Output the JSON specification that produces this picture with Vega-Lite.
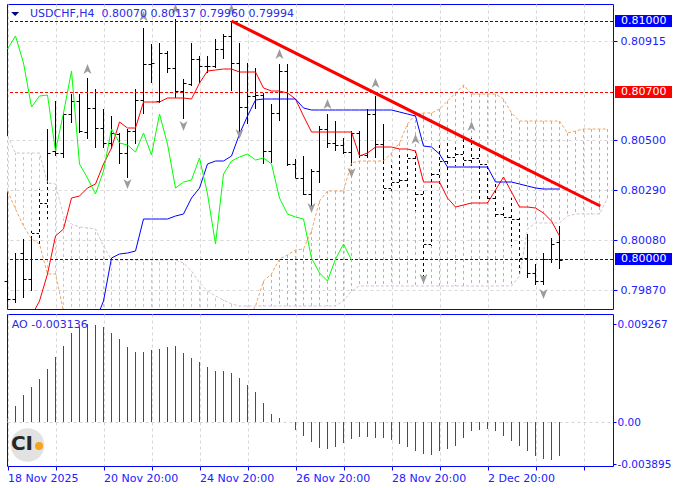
{
"$schema": "https://vega.github.io/schema/vega-lite/v6.json",
"background": "white",
"padding": {"left": 3, "top": 3, "right": 0, "bottom": 0},
"spacing": 3,
"config": {
  "view": {"stroke": "#0000ff", "strokeWidth": 1},
  "axis": {"labelFont": "DejaVu Sans", "labelFontSize": 11, "labelColor": "#2020ff", "tickColor": "#0000ff", "domain": false, "title": null, "gridColor": "#d6d6d6", "gridDash": [3, 3], "tickSize": 4},
  "text": {"font": "DejaVu Sans"}
},
"resolve": {"scale": {"x": "independent", "y": "independent", "color": "independent", "shape": "independent"}},
"datasets": {
  "bars": [
    {"i":0,"o":0.79908,"h":0.79983,"l":0.79824,"c":0.79832},
    {"i":1,"o":0.79832,"h":0.80025,"l":0.79815,"c":0.80000},
    {"i":2,"o":0.80025,"h":0.80084,"l":0.79836,"c":0.79916},
    {"i":3,"o":0.79916,"h":0.80118,"l":0.79866,"c":0.80109},
    {"i":4,"o":0.80109,"h":0.80294,"l":0.80063,"c":0.80235},
    {"i":5,"o":0.80235,"h":0.80546,"l":0.80168,"c":0.80445},
    {"i":6,"o":0.80454,"h":0.80664,"l":0.80433,"c":0.80445},
    {"i":7,"o":0.80445,"h":0.80613,"l":0.80424,"c":0.80609},
    {"i":8,"o":0.80609,"h":0.80693,"l":0.80571,"c":0.80664},
    {"i":9,"o":0.80664,"h":0.80693,"l":0.80529,"c":0.80538},
    {"i":10,"o":0.80534,"h":0.80761,"l":0.80504,"c":0.80634},
    {"i":11,"o":0.80634,"h":0.80714,"l":0.80466,"c":0.80550},
    {"i":12,"o":0.80550,"h":0.80630,"l":0.80466,"c":0.80487},
    {"i":13,"o":0.80487,"h":0.80601,"l":0.80462,"c":0.80529},
    {"i":14,"o":0.80525,"h":0.80529,"l":0.80399,"c":0.80445},
    {"i":15,"o":0.80445,"h":0.80546,"l":0.80340,"c":0.80538},
    {"i":16,"o":0.80538,"h":0.80714,"l":0.80483,"c":0.80668},
    {"i":17,"o":0.80668,"h":0.80971,"l":0.80609,"c":0.80819},
    {"i":18,"o":0.80819,"h":0.80903,"l":0.80739,"c":0.80824},
    {"i":19,"o":0.80664,"h":0.80908,"l":0.80655,"c":0.80866},
    {"i":20,"o":0.80866,"h":0.80874,"l":0.80782,"c":0.80803},
    {"i":21,"o":0.80803,"h":0.81008,"l":0.80676,"c":0.80706},
    {"i":22,"o":0.80706,"h":0.80756,"l":0.80588,"c":0.80739},
    {"i":23,"o":0.80735,"h":0.80908,"l":0.80727,"c":0.80840},
    {"i":24,"o":0.80840,"h":0.80853,"l":0.80739,"c":0.80811},
    {"i":25,"o":0.80811,"h":0.80853,"l":0.80782,"c":0.80811},
    {"i":26,"o":0.80811,"h":0.80924,"l":0.80803,"c":0.80882},
    {"i":27,"o":0.80882,"h":0.80945,"l":0.80840,"c":0.80937},
    {"i":28,"o":0.80937,"h":0.81000,"l":0.80706,"c":0.80824},
    {"i":29,"o":0.80824,"h":0.80908,"l":0.80529,"c":0.80639},
    {"i":30,"o":0.80639,"h":0.80824,"l":0.80567,"c":0.80685},
    {"i":31,"o":0.80685,"h":0.80803,"l":0.80630,"c":0.80689},
    {"i":32,"o":0.80689,"h":0.80697,"l":0.80399,"c":0.80454},
    {"i":33,"o":0.80454,"h":0.80651,"l":0.80403,"c":0.80613},
    {"i":34,"o":0.80613,"h":0.80819,"l":0.80580,"c":0.80790},
    {"i":35,"o":0.80790,"h":0.80819,"l":0.80391,"c":0.80399},
    {"i":36,"o":0.80399,"h":0.80420,"l":0.80340,"c":0.80340},
    {"i":37,"o":0.80340,"h":0.80433,"l":0.80269,"c":0.80273},
    {"i":38,"o":0.80273,"h":0.80378,"l":0.80210,"c":0.80370},
    {"i":39,"o":0.80370,"h":0.80559,"l":0.80319,"c":0.80546},
    {"i":40,"o":0.80546,"h":0.80609,"l":0.80466,"c":0.80487},
    {"i":41,"o":0.80487,"h":0.80580,"l":0.80454,"c":0.80479},
    {"i":42,"o":0.80479,"h":0.80508,"l":0.80441,"c":0.80450},
    {"i":43,"o":0.80450,"h":0.80538,"l":0.80391,"c":0.80529},
    {"i":44,"o":0.80529,"h":0.80538,"l":0.80424,"c":0.80437},
    {"i":45,"o":0.80437,"h":0.80630,"l":0.80424,"c":0.80609},
    {"i":46,"o":0.80609,"h":0.80685,"l":0.80424,"c":0.80483},
    {"i":47,"o":0.80483,"h":0.80567,"l":0.80244,"c":0.80298},
    {"i":48,"o":0.80298,"h":0.80399,"l":0.80286,"c":0.80324},
    {"i":49,"o":0.80324,"h":0.80441,"l":0.80286,"c":0.80332},
    {"i":50,"o":0.80332,"h":0.80454,"l":0.80294,"c":0.80424},
    {"i":51,"o":0.80424,"h":0.80454,"l":0.80202,"c":0.80273},
    {"i":52,"o":0.80273,"h":0.80286,"l":0.79929,"c":0.80063},
    {"i":53,"o":0.80063,"h":0.80370,"l":0.80055,"c":0.80357},
    {"i":54,"o":0.80357,"h":0.80483,"l":0.80307,"c":0.80412},
    {"i":55,"o":0.80412,"h":0.80487,"l":0.80298,"c":0.80429},
    {"i":56,"o":0.80429,"h":0.80483,"l":0.80391,"c":0.80441},
    {"i":57,"o":0.80441,"h":0.80508,"l":0.80391,"c":0.80416},
    {"i":58,"o":0.80416,"h":0.80508,"l":0.80403,"c":0.80424},
    {"i":59,"o":0.80424,"h":0.80466,"l":0.80244,"c":0.80399},
    {"i":60,"o":0.80399,"h":0.80403,"l":0.80235,"c":0.80256},
    {"i":61,"o":0.80256,"h":0.80315,"l":0.80172,"c":0.80189},
    {"i":62,"o":0.80189,"h":0.80223,"l":0.80168,"c":0.80176},
    {"i":63,"o":0.80176,"h":0.80256,"l":0.80055,"c":0.80168},
    {"i":64,"o":0.80168,"h":0.80172,"l":0.79929,"c":0.80004},
    {"i":65,"o":0.80004,"h":0.80105,"l":0.79920,"c":0.79941},
    {"i":66,"o":0.79941,"h":0.79979,"l":0.79891,"c":0.79908},
    {"i":67,"o":0.79908,"h":0.80025,"l":0.79891,"c":0.80000},
    {"i":68,"o":0.80000,"h":0.80088,"l":0.79983,"c":0.80063},
    {"i":69,"o":0.80070,"h":0.80137,"l":0.79960,"c":0.79994}
  ],
  "tk": [
    {"i":3,"v":0.79760},{"i":4,"v":0.79824},{"i":5,"v":0.79937},{"i":6,"v":0.80097},{"i":7,"v":0.80126},
    {"i":8,"v":0.80256},{"i":9,"v":0.80265},{"i":10,"v":0.80298},{"i":11,"v":0.80315},{"i":12,"v":0.80399},
    {"i":13,"v":0.80466},{"i":14,"v":0.80576},{"i":15,"v":0.80550},{"i":16,"v":0.80550},{"i":17,"v":0.80660},
    {"i":18,"v":0.80660},{"i":19,"v":0.80660},{"i":20,"v":0.80676},{"i":21,"v":0.80676},{"i":22,"v":0.80676},
    {"i":23,"v":0.80672},{"i":24,"v":0.80739},{"i":25,"v":0.80790},{"i":26,"v":0.80794},{"i":27,"v":0.80798},
    {"i":28,"v":0.80798},{"i":29,"v":0.80786},{"i":30,"v":0.80786},{"i":31,"v":0.80786},{"i":32,"v":0.80718},
    {"i":33,"v":0.80706},{"i":34,"v":0.80706},{"i":35,"v":0.80697},{"i":36,"v":0.80672},{"i":37,"v":0.80601},
    {"i":38,"v":0.80534},{"i":39,"v":0.80534},{"i":40,"v":0.80534},{"i":41,"v":0.80534},{"i":42,"v":0.80534},
    {"i":43,"v":0.80534},{"i":44,"v":0.80433},{"i":45,"v":0.80445},{"i":46,"v":0.80471},{"i":47,"v":0.80471},
    {"i":48,"v":0.80471},{"i":49,"v":0.80462},{"i":50,"v":0.80462},{"i":51,"v":0.80454},{"i":52,"v":0.80324},
    {"i":53,"v":0.80324},{"i":54,"v":0.80324},{"i":55,"v":0.80256},{"i":56,"v":0.80218},{"i":57,"v":0.80227},
    {"i":58,"v":0.80235},{"i":59,"v":0.80235},{"i":60,"v":0.80235},{"i":61,"v":0.80290},{"i":62,"v":0.80345},
    {"i":63,"v":0.80282},{"i":64,"v":0.80218},{"i":65,"v":0.80218},{"i":66,"v":0.80214},{"i":67,"v":0.80193},
    {"i":68,"v":0.80160},{"i":69,"v":0.80097}
  ],
  "kj": [
    {"i":11,"v":0.79739},{"i":12,"v":0.79824},{"i":13,"v":0.80004},{"i":14,"v":0.80021},{"i":15,"v":0.80025},
    {"i":16,"v":0.80034},{"i":17,"v":0.80168},{"i":18,"v":0.80168},{"i":19,"v":0.80168},{"i":20,"v":0.80168},
    {"i":21,"v":0.80181},{"i":22,"v":0.80189},{"i":23,"v":0.80256},{"i":24,"v":0.80298},{"i":25,"v":0.80399},
    {"i":26,"v":0.80412},{"i":27,"v":0.80412},{"i":28,"v":0.80433},{"i":29,"v":0.80525},{"i":30,"v":0.80601},
    {"i":31,"v":0.80668},{"i":32,"v":0.80672},{"i":33,"v":0.80672},{"i":34,"v":0.80672},{"i":35,"v":0.80672},
    {"i":36,"v":0.80672},{"i":37,"v":0.80634},{"i":38,"v":0.80626},{"i":39,"v":0.80626},{"i":40,"v":0.80626},
    {"i":41,"v":0.80626},{"i":42,"v":0.80626},{"i":43,"v":0.80626},{"i":44,"v":0.80626},{"i":45,"v":0.80626},
    {"i":46,"v":0.80626},{"i":47,"v":0.80626},{"i":48,"v":0.80626},{"i":49,"v":0.80618},{"i":50,"v":0.80609},
    {"i":51,"v":0.80601},{"i":52,"v":0.80475},{"i":53,"v":0.80471},{"i":54,"v":0.80441},{"i":55,"v":0.80387},
    {"i":56,"v":0.80387},{"i":57,"v":0.80387},{"i":58,"v":0.80387},{"i":59,"v":0.80387},{"i":60,"v":0.80387},
    {"i":61,"v":0.80324},{"i":62,"v":0.80324},{"i":63,"v":0.80324},{"i":64,"v":0.80315},{"i":65,"v":0.80307},
    {"i":66,"v":0.80298},{"i":67,"v":0.80294},{"i":68,"v":0.80294},{"i":69,"v":0.80294}
  ],
  "ch": [
    {"i":0,"v":0.80882},{"i":1,"v":0.80937},{"i":2,"v":0.80824},{"i":3,"v":0.80639},{"i":4,"v":0.80685},
    {"i":5,"v":0.80689},{"i":6,"v":0.80454},{"i":7,"v":0.80613},{"i":8,"v":0.80790},{"i":9,"v":0.80399},
    {"i":10,"v":0.80340},{"i":11,"v":0.80273},{"i":12,"v":0.80370},{"i":13,"v":0.80546},{"i":14,"v":0.80487},
    {"i":15,"v":0.80479},{"i":16,"v":0.80450},{"i":17,"v":0.80529},{"i":18,"v":0.80437},{"i":19,"v":0.80609},
    {"i":20,"v":0.80483},{"i":21,"v":0.80298},{"i":22,"v":0.80324},{"i":23,"v":0.80332},{"i":24,"v":0.80424},
    {"i":25,"v":0.80273},{"i":26,"v":0.80063},{"i":27,"v":0.80357},{"i":28,"v":0.80412},{"i":29,"v":0.80429},
    {"i":30,"v":0.80441},{"i":31,"v":0.80416},{"i":32,"v":0.80424},{"i":33,"v":0.80399},{"i":34,"v":0.80256},
    {"i":35,"v":0.80189},{"i":36,"v":0.80176},{"i":37,"v":0.80168},{"i":38,"v":0.80004},{"i":39,"v":0.79941},
    {"i":40,"v":0.79908},{"i":41,"v":0.80000},{"i":42,"v":0.80063},{"i":43,"v":0.79994}
  ],
  "kumo": [
    {"i":0,"a":0.80286,"b":0.80517,"k":"d"},{"i":1,"a":0.80210,"b":0.80445,"k":"d"},{"i":2,"a":0.80139,"b":0.80445,"k":"d"},
    {"i":3,"a":0.80084,"b":0.80445,"k":"d"},{"i":4,"a":0.80063,"b":0.80445,"k":"d"},{"i":5,"a":0.79937,"b":0.80319,"k":"d"},
    {"i":6,"a":0.79937,"b":0.80315,"k":"d"},{"i":7,"a":0.79782,"b":0.80181,"k":"d"},{"i":8,"a":0.79697,"b":0.80147,"k":"d"},
    {"i":9,"a":0.79697,"b":0.80134,"k":"d"},{"i":10,"a":0.79697,"b":0.80130,"k":"d"},{"i":11,"a":0.79697,"b":0.80126,"k":"d"},
    {"i":12,"a":0.79697,"b":0.80055,"k":"d"},{"i":13,"a":0.79697,"b":0.79996,"k":"d"},{"i":14,"a":0.79697,"b":0.79996,"k":"d"},
    {"i":15,"a":0.79697,"b":0.79996,"k":"d"},{"i":16,"a":0.79697,"b":0.79996,"k":"d"},{"i":17,"a":0.79697,"b":0.79996,"k":"d"},
    {"i":18,"a":0.79697,"b":0.79996,"k":"d"},{"i":19,"a":0.79697,"b":0.79996,"k":"d"},{"i":20,"a":0.79697,"b":0.79996,"k":"d"},
    {"i":21,"a":0.79697,"b":0.79996,"k":"d"},{"i":22,"a":0.79697,"b":0.79983,"k":"d"},{"i":23,"a":0.79697,"b":0.79950,"k":"d"},
    {"i":24,"a":0.79697,"b":0.79899,"k":"d"},{"i":25,"a":0.79697,"b":0.79866,"k":"d"},{"i":26,"a":0.79697,"b":0.79845,"k":"d"},
    {"i":27,"a":0.79697,"b":0.79828,"k":"d"},{"i":28,"a":0.79697,"b":0.79811,"k":"d"},{"i":29,"a":0.79697,"b":0.79803,"k":"d"},
    {"i":30,"a":0.79748,"b":0.79803,"k":"d"},{"i":31,"a":0.79803,"b":0.79803,"k":"u"},{"i":32,"a":0.79908,"b":0.79803,"k":"u"},
    {"i":33,"a":0.79937,"b":0.79803,"k":"u"},{"i":34,"a":0.80000,"b":0.79803,"k":"u"},{"i":35,"a":0.80017,"b":0.79803,"k":"u"},
    {"i":36,"a":0.80038,"b":0.79803,"k":"u"},{"i":37,"a":0.80042,"b":0.79803,"k":"u"},{"i":38,"a":0.80118,"b":0.79803,"k":"u"},
    {"i":39,"a":0.80244,"b":0.79803,"k":"u"},{"i":40,"a":0.80286,"b":0.79803,"k":"u"},{"i":41,"a":0.80286,"b":0.79803,"k":"u"},
    {"i":42,"a":0.80286,"b":0.79824,"k":"u"},{"i":43,"a":0.80403,"b":0.79866,"k":"u"},{"i":44,"a":0.80412,"b":0.79887,"k":"u"},
    {"i":45,"a":0.80412,"b":0.79887,"k":"u"},{"i":46,"a":0.80412,"b":0.79887,"k":"u"},{"i":47,"a":0.80412,"b":0.79887,"k":"u"},
    {"i":48,"a":0.80445,"b":0.79887,"k":"u"},{"i":49,"a":0.80487,"b":0.79887,"k":"u"},{"i":50,"a":0.80567,"b":0.79887,"k":"u"},
    {"i":51,"a":0.80609,"b":0.79887,"k":"u"},{"i":52,"a":0.80613,"b":0.79887,"k":"u"},{"i":53,"a":0.80613,"b":0.79887,"k":"u"},
    {"i":54,"a":0.80630,"b":0.79887,"k":"u"},{"i":55,"a":0.80664,"b":0.79887,"k":"u"},{"i":56,"a":0.80697,"b":0.79887,"k":"u"},
    {"i":57,"a":0.80731,"b":0.79887,"k":"u"},{"i":58,"a":0.80693,"b":0.79887,"k":"u"},{"i":59,"a":0.80693,"b":0.79887,"k":"u"},
    {"i":60,"a":0.80693,"b":0.79887,"k":"u"},{"i":61,"a":0.80693,"b":0.79887,"k":"u"},{"i":62,"a":0.80672,"b":0.79887,"k":"u"},
    {"i":63,"a":0.80613,"b":0.79887,"k":"u"},{"i":64,"a":0.80580,"b":0.79929,"k":"u"},{"i":65,"a":0.80580,"b":0.80126,"k":"u"},
    {"i":66,"a":0.80580,"b":0.80151,"k":"u"},{"i":67,"a":0.80580,"b":0.80151,"k":"u"},{"i":68,"a":0.80580,"b":0.80151,"k":"u"},
    {"i":69,"a":0.80580,"b":0.80151,"k":"u"},{"i":70,"a":0.80529,"b":0.80181,"k":"u"},{"i":71,"a":0.80538,"b":0.80189,"k":"u"},
    {"i":72,"a":0.80546,"b":0.80189,"k":"u"},{"i":73,"a":0.80546,"b":0.80189,"k":"u"},{"i":74,"a":0.80546,"b":0.80189,"k":"u"},
    {"i":75,"a":0.80546,"b":0.80256,"k":"u"}
  ],
  "fr": [
    {"i":10,"p":0.80798,"d":"up"},{"i":17,"p":0.81021,"d":"up"},{"i":21,"p":0.81050,"d":"up"},{"i":28,"p":0.81050,"d":"up"},
    {"i":34,"p":0.80861,"d":"up"},{"i":40,"p":0.80651,"d":"up"},{"i":46,"p":0.80739,"d":"up"},{"i":51,"p":0.80504,"d":"up"},
    {"i":58,"p":0.80559,"d":"up"},
    {"i":15,"p":0.80315,"d":"down"},{"i":22,"p":0.80559,"d":"down"},{"i":29,"p":0.80525,"d":"down"},{"i":38,"p":0.80214,"d":"down"},
    {"i":43,"p":0.80361,"d":"down"},{"i":52,"p":0.79916,"d":"down"},{"i":67,"p":0.79853,"d":"down"}
  ],
  "lv": [
    {"p":0.81000,"t":"0.81000","col":"b"},{"p":0.80700,"t":"0.80700","col":"r"},{"p":0.80000,"t":"0.80000","col":"b"}
  ],
  "trend": [{"i":28,"p":0.81000},{"i":74.1,"p":0.80223}],
  "ao": [
    {"i":0,"v":0.00041,"k":"up"},{"i":1,"v":0.00157,"k":"up"},{"i":2,"v":0.00254,"k":"up"},{"i":3,"v":0.00332,"k":"up"},
    {"i":4,"v":0.00407,"k":"up"},{"i":5,"v":0.00501,"k":"up"},{"i":6,"v":0.00613,"k":"up"},{"i":7,"v":0.00720,"k":"up"},
    {"i":8,"v":0.00839,"k":"up"},{"i":9,"v":0.00901,"k":"up"},{"i":10,"v":0.009267,"k":"up"},{"i":11,"v":0.00917,"k":"dn"},
    {"i":12,"v":0.00895,"k":"dn"},{"i":13,"v":0.00839,"k":"dn"},{"i":14,"v":0.00783,"k":"dn"},{"i":15,"v":0.00707,"k":"dn"},
    {"i":16,"v":0.00664,"k":"dn"},{"i":17,"v":0.00666,"k":"up"},{"i":18,"v":0.00679,"k":"up"},{"i":19,"v":0.00689,"k":"up"},
    {"i":20,"v":0.00714,"k":"up"},{"i":21,"v":0.00715,"k":"up"},{"i":22,"v":0.00654,"k":"dn"},{"i":23,"v":0.00604,"k":"dn"},
    {"i":24,"v":0.00567,"k":"dn"},{"i":25,"v":0.00520,"k":"dn"},{"i":26,"v":0.00485,"k":"dn"},{"i":27,"v":0.00487,"k":"up"},
    {"i":28,"v":0.00463,"k":"dn"},{"i":29,"v":0.00416,"k":"dn"},{"i":30,"v":0.00351,"k":"dn"},{"i":31,"v":0.00285,"k":"dn"},
    {"i":32,"v":0.00182,"k":"dn"},{"i":33,"v":0.00078,"k":"dn"},{"i":34,"v":0.00041,"k":"dn"},{"i":35,"v":0.00003,"k":"dn"},
    {"i":36,"v":-0.00072,"k":"dn"},{"i":37,"v":-0.00125,"k":"dn"},{"i":38,"v":-0.00185,"k":"dn"},{"i":39,"v":-0.00241,"k":"dn"},
    {"i":40,"v":-0.00250,"k":"dn"},{"i":41,"v":-0.00232,"k":"up"},{"i":42,"v":-0.00194,"k":"up"},{"i":43,"v":-0.00157,"k":"up"},
    {"i":44,"v":-0.00135,"k":"up"},{"i":45,"v":-0.00141,"k":"dn"},{"i":46,"v":-0.00143,"k":"dn"},{"i":47,"v":-0.00147,"k":"dn"},
    {"i":48,"v":-0.00163,"k":"dn"},{"i":49,"v":-0.00203,"k":"dn"},{"i":50,"v":-0.00232,"k":"dn"},{"i":51,"v":-0.00266,"k":"dn"},
    {"i":52,"v":-0.00294,"k":"dn"},{"i":53,"v":-0.00304,"k":"dn"},{"i":54,"v":-0.00266,"k":"up"},{"i":55,"v":-0.00247,"k":"up"},
    {"i":56,"v":-0.00219,"k":"up"},{"i":57,"v":-0.00147,"k":"up"},{"i":58,"v":-0.00078,"k":"up"},{"i":59,"v":-0.00069,"k":"up"},
    {"i":60,"v":-0.00066,"k":"up"},{"i":61,"v":-0.00085,"k":"dn"},{"i":62,"v":-0.00125,"k":"dn"},{"i":63,"v":-0.00172,"k":"dn"},
    {"i":64,"v":-0.00219,"k":"dn"},{"i":65,"v":-0.00266,"k":"dn"},{"i":66,"v":-0.00313,"k":"dn"},{"i":67,"v":-0.00341,"k":"dn"},
    {"i":68,"v":-0.00351,"k":"dn"},{"i":69,"v":-0.003136,"k":"up"}
  ]
},
"vconcat": [
{
  "width": 606, "height": 305,
  "layer": [
    {"data": {"name": "kumo"},
     "mark": {"type": "rule", "strokeDash": [3, 3], "clip": true},
     "encoding": {
       "x": {"field": "i", "type": "quantitative", "scale": {"domain": [-0.0625, 75.6875], "nice": false, "zero": false},
             "axis": {"values": [0,6,12,18,24,30,36,42,48,54,60,66,72], "labels": false, "ticks": false, "grid": true}},
       "y": {"field": "a", "type": "quantitative", "scale": {"domain": [0.7979, 0.810714], "nice": false, "zero": false, "round": true},
             "axis": {"orient": "right", "values": [0.7987, 0.8008, 0.8029, 0.805, 0.80915], "format": ".5f", "grid": true, "labelPadding": 3}},
       "y2": {"field": "b"},
       "color": {"condition": {"test": "datum.k === 'u'", "value": "#f4a460"}, "value": "#d8bfd8"}
     }},
    {"data": {"name": "bars"},
     "mark": {"type": "rule", "color": "#000000", "clip": true},
     "encoding": {"x": {"field": "i", "type": "quantitative"}, "y": {"field": "l", "type": "quantitative"}, "y2": {"field": "h"}}},
    {"data": {"name": "bars"},
     "mark": {"type": "rule", "color": "#000000", "xOffset": -3, "yOffset": 0.5},
     "encoding": {"x": {"field": "i", "type": "quantitative"}, "x2": {"field": "i"}, "y": {"field": "o", "type": "quantitative"}}},
    {"data": {"name": "bars"},
     "mark": {"type": "rule", "color": "#000000", "x2Offset": 3, "yOffset": 0.5},
     "encoding": {"x": {"field": "i", "type": "quantitative"}, "x2": {"field": "i"}, "y": {"field": "c", "type": "quantitative"}}},
    {"data": {"name": "kumo"},
     "mark": {"type": "rule", "color": "#ffffff", "strokeDash": [3, 3], "strokeDashOffset": 3, "clip": true},
     "encoding": {"x": {"field": "i", "type": "quantitative"}, "y": {"field": "a", "type": "quantitative"}, "y2": {"field": "b"}}},
    {"data": {"name": "kumo"},
     "mark": {"type": "line", "color": "#f4a460", "strokeWidth": 1, "strokeDash": [3, 2], "clip": true},
     "encoding": {"x": {"field": "i", "type": "quantitative"}, "y": {"field": "a", "type": "quantitative"}}},
    {"data": {"name": "kumo"},
     "mark": {"type": "line", "color": "#d8bfd8", "strokeWidth": 1, "strokeDash": [3, 2], "clip": true},
     "encoding": {"x": {"field": "i", "type": "quantitative"}, "y": {"field": "b", "type": "quantitative"}}},
    {"data": {"name": "lv"},
     "mark": {"type": "rule", "strokeDash": [3, 2], "yOffset": 0.5},
     "encoding": {"y": {"field": "p", "type": "quantitative"},
                  "color": {"condition": {"test": "datum.col === 'r'", "value": "#ff0000"}, "value": "#0000ff"}}},
    {"data": {"name": "tk"},
     "mark": {"type": "line", "color": "#ff0000", "strokeWidth": 1, "clip": true},
     "encoding": {"x": {"field": "i", "type": "quantitative"}, "y": {"field": "v", "type": "quantitative"}}},
    {"data": {"name": "kj"},
     "mark": {"type": "line", "color": "#0000ff", "strokeWidth": 1, "clip": true},
     "encoding": {"x": {"field": "i", "type": "quantitative"}, "y": {"field": "v", "type": "quantitative"}}},
    {"data": {"name": "ch"},
     "mark": {"type": "line", "color": "#00ff00", "strokeWidth": 1, "clip": true},
     "encoding": {"x": {"field": "i", "type": "quantitative"}, "y": {"field": "v", "type": "quantitative"}}},
    {"data": {"name": "trend"},
     "mark": {"type": "line", "color": "#ff0000", "strokeWidth": 3},
     "encoding": {"x": {"field": "i", "type": "quantitative"}, "y": {"field": "p", "type": "quantitative"}}},
    {"data": {"name": "fr"},
     "mark": {"type": "point", "filled": true, "opacity": 1, "size": 100, "color": "#9c9c9c"},
     "encoding": {"x": {"field": "i", "type": "quantitative"}, "y": {"field": "p", "type": "quantitative"},
                  "shape": {"field": "d", "type": "nominal", "scale": {"domain": ["up", "down"], "range": ["M0,-1L0.8,1L0,0.45L-0.8,1Z", "M0,1L0.8,-1L0,-0.45L-0.8,-1Z"]}, "legend": null}}},
    {"data": {"values": [{}]},
     "mark": {"type": "point", "filled": true, "opacity": 1, "size": 64, "color": "#000080", "shape": "M-1,-0.5L1,-0.5L0,0.5Z"},
     "encoding": {"x": {"datum": 0.96, "type": "quantitative"}, "y": {"datum": 0.810307, "type": "quantitative"}}},
    {"data": {"values": [{}]},
     "mark": {"type": "text", "align": "left", "baseline": "middle", "fontSize": 11, "color": "#2a2ae6", "text": "USDCHF,H4\u00a0 0.80070 0.80137 0.79960 0.79994"},
     "encoding": {"x": {"datum": 2.81, "type": "quantitative"}, "y": {"datum": 0.810307, "type": "quantitative"}}},
    {"data": {"name": "lv"},
     "mark": {"type": "point", "filled": true, "opacity": 1, "size": 3249, "shape": "M-1,-0.21L1,-0.21L1,0.21L-1,0.21Z"},
     "encoding": {"x": {"datum": 79.5, "type": "quantitative"}, "y": {"field": "p", "type": "quantitative"},
                  "color": {"condition": {"test": "datum.col === 'r'", "value": "#ff0000"}, "value": "#0000ff"}}},
    {"data": {"name": "lv"},
     "mark": {"type": "text", "align": "left", "baseline": "middle", "fontSize": 11, "color": "#ffffff"},
     "encoding": {"x": {"datum": 76.69, "type": "quantitative"}, "y": {"field": "p", "type": "quantitative"}, "text": {"field": "t"}}}
  ]
},
{
  "width": 606, "height": 152,
  "layer": [
    {"data": {"values": [{}]},
     "mark": {"type": "rule", "color": "#d6d6d6", "strokeDash": [3, 3], "yOffset": 0.5},
     "encoding": {
       "x": {"datum": 0, "type": "quantitative", "scale": {"domain": [-0.0625, 75.6875], "nice": false, "zero": false},
             "axis": {"orient": "bottom", "values": [0,6,12,18,24,30,36,42,48,54,60,66,72], "grid": true, "labelAlign": "left", "labelPadding": 2, "labelFlush": false, "labelOverlap": false, "labelBound": false,
                      "labelExpr": "datum.value == 0 ? '18 Nov 2025' : datum.value == 12 ? '20 Nov 20:00' : datum.value == 24 ? '24 Nov 20:00' : datum.value == 36 ? '26 Nov 20:00' : datum.value == 48 ? '28 Nov 20:00' : datum.value == 60 ? '2 Dec 20:00' : ''"}},
       "x2": {"datum": 75.6875},
       "y": {"datum": 0, "type": "quantitative", "scale": {"domain": [-0.0041, 0.0102], "nice": false, "zero": false, "round": true},
             "axis": {"orient": "right", "values": [-0.003895, 0, 0.009267], "grid": false, "labelPadding": 1, "tickSize": 3, "labelFontSize": 10.5,
                      "labelExpr": "datum.value > 0.005 ? '0.009267' : (datum.value < -0.001 ? '-0.003895' : '0.00')"}}
     }},
    {"data": {"name": "ao"},
     "mark": {"type": "rule", "strokeWidth": 1},
     "encoding": {"x": {"field": "i", "type": "quantitative"}, "y": {"field": "v", "type": "quantitative"}, "y2": {"datum": 0},
                  "color": {"condition": {"test": "datum.k === 'up'", "value": "#008000"}, "value": "#ff0000"}}},
    {"data": {"values": [{}]},
     "mark": {"type": "text", "align": "left", "baseline": "middle", "fontSize": 11, "color": "#2a2ae6", "text": "AO -0.003136"},
     "encoding": {"x": {"datum": 0.53, "type": "quantitative"}, "y": {"datum": 0.00914, "type": "quantitative"}}},
    {"data": {"values": [{}]},
     "mark": {"type": "point", "filled": true, "opacity": 1, "size": 1134, "color": "#e2e2e2", "shape": "circle"},
     "encoding": {"x": {"datum": 2.51, "type": "quantitative"}, "y": {"datum": -0.002096, "type": "quantitative"}}},
    {"data": {"values": [{}]},
     "mark": {"type": "text", "align": "center", "baseline": "middle", "fontSize": 20, "fontWeight": "bold", "color": "#262626", "text": "CI"},
     "encoding": {"x": {"datum": 1.81, "type": "quantitative"}, "y": {"datum": -0.00203, "type": "quantitative"}}},
    {"data": {"values": [{}]},
     "mark": {"type": "point", "filled": true, "opacity": 1, "size": 64, "color": "#f7a21b", "shape": "circle"},
     "encoding": {"x": {"datum": 3.94, "type": "quantitative"}, "y": {"datum": -0.00222, "type": "quantitative"}}}
  ]
}
]
}
